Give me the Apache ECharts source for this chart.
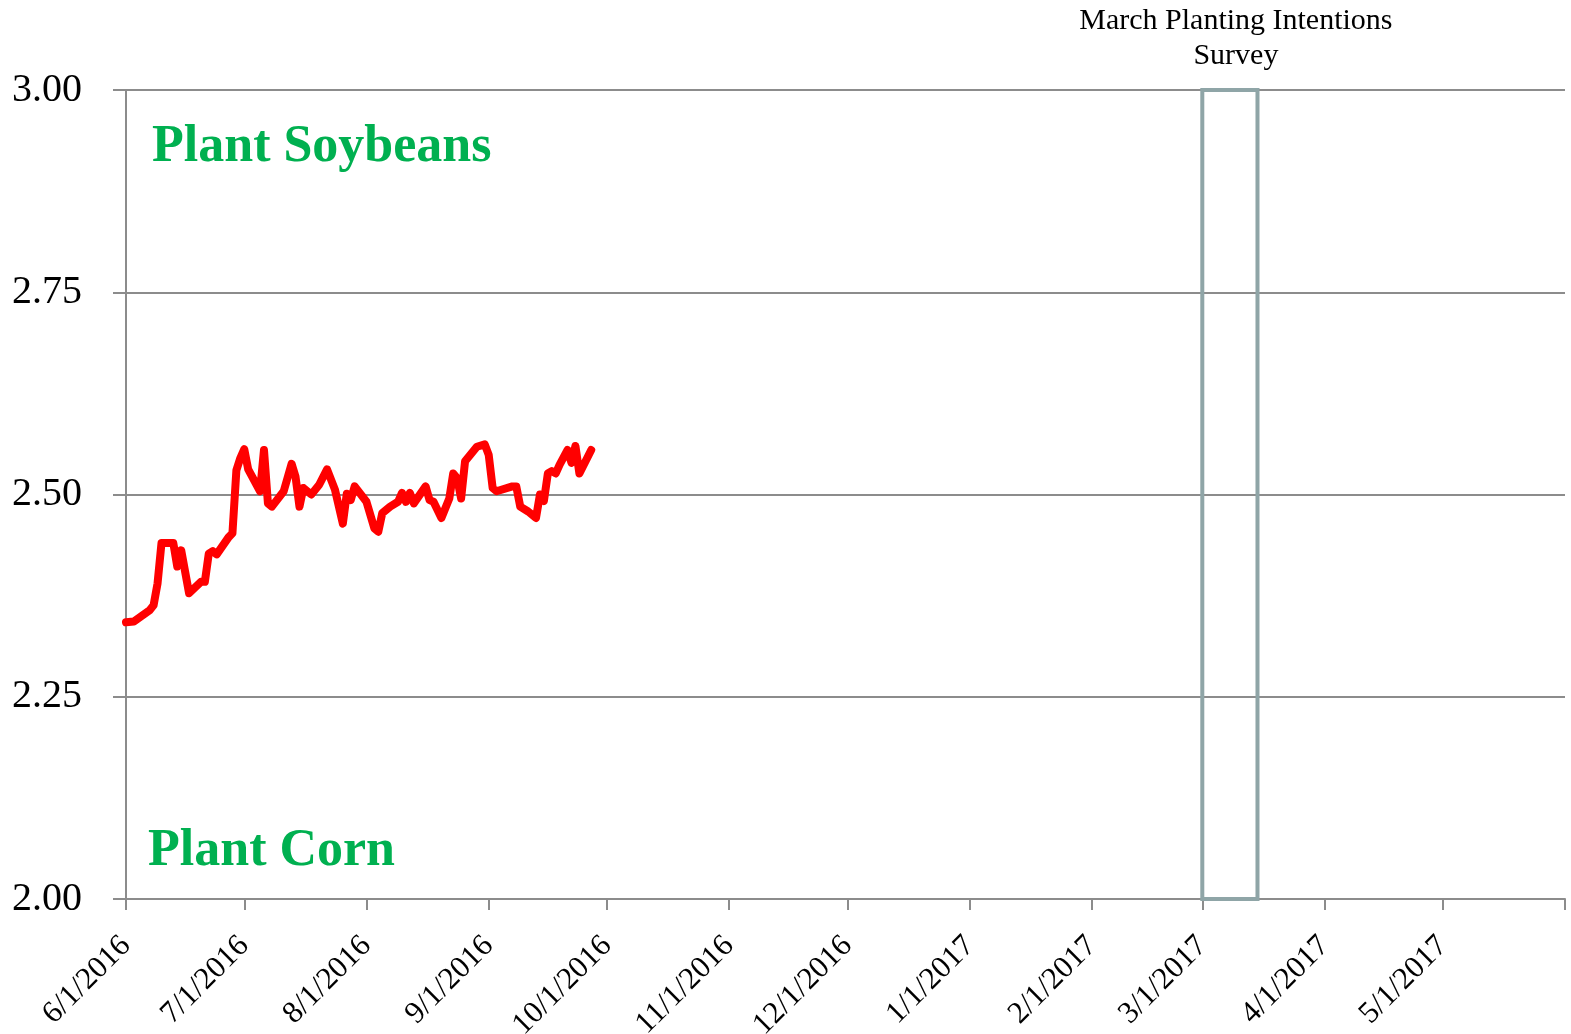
<!DOCTYPE html>
<html>
<head>
<meta charset="utf-8">
<script src="https://cdn.jsdelivr.net/npm/echarts@6/dist/echarts.min.js"></script>
<style>
html,body{margin:0;padding:0;background:#fff;}
#chart{width:1571px;height:1034px;}
</style>
</head>
<body>
<div id="chart"></div>
<script>
// Soybean/corn price ratio
const dates = [
 '2016-06-01','2016-06-03','2016-06-07','2016-06-08','2016-06-09','2016-06-10','2016-06-13','2016-06-14','2016-06-15','2016-06-17',
 '2016-06-20','2016-06-21','2016-06-22','2016-06-23','2016-06-24','2016-06-27','2016-06-28','2016-06-29','2016-06-30','2016-07-01',
 '2016-07-02','2016-07-05','2016-07-06','2016-07-07','2016-07-08','2016-07-11','2016-07-13','2016-07-14','2016-07-15','2016-07-16',
 '2016-07-18','2016-07-20','2016-07-22','2016-07-24','2016-07-26','2016-07-27','2016-07-28','2016-07-29','2016-08-01','2016-08-03',
 '2016-08-04','2016-08-05','2016-08-07','2016-08-09','2016-08-10','2016-08-11','2016-08-12','2016-08-13','2016-08-16','2016-08-17',
 '2016-08-18','2016-08-20','2016-08-22','2016-08-23','2016-08-24','2016-08-25','2016-08-26','2016-08-29','2016-08-31','2016-09-01',
 '2016-09-02','2016-09-03','2016-09-07','2016-09-08','2016-09-09','2016-09-11','2016-09-13','2016-09-14','2016-09-15','2016-09-16',
 '2016-09-17','2016-09-18','2016-09-19','2016-09-21','2016-09-22','2016-09-23','2016-09-24','2016-09-27'
];
const ratios = [
 2.342,2.343,2.357,2.363,2.390,2.440,2.440,2.411,2.431,2.378,
 2.392,2.392,2.427,2.430,2.426,2.447,2.452,2.530,2.545,2.556,
 2.531,2.504,2.555,2.489,2.485,2.504,2.538,2.522,2.485,2.508,
 2.500,2.512,2.531,2.506,2.464,2.501,2.493,2.510,2.491,2.458,
 2.454,2.477,2.485,2.491,2.502,2.491,2.502,2.489,2.510,2.493,
 2.491,2.471,2.495,2.526,2.520,2.495,2.541,2.559,2.562,2.549,
 2.508,2.504,2.510,2.510,2.485,2.479,2.471,2.500,2.492,2.526,
 2.529,2.526,2.537,2.555,2.539,2.560,2.526,2.555
];
const xRange = ['2016-06-01','2017-06-01'];
const yTicks = [2.00, 2.25, 2.50, 2.75, 3.00];
const surveyWindow = ['2017-03-01','2017-03-15'];
const surveyLabel = 'March Planting Intentions\nSurvey';
const zoneTop = 'Plant Soybeans';
const zoneBottom = 'Plant Corn';

const FONT = 'Liberation Serif';
const chart = echarts.init(document.getElementById('chart'));
const maxTs = new Date(xRange[1] + 'T00:00:00').getTime();

chart.setOption({
  animation: false,
  backgroundColor: '#ffffff',
  grid: {left: 126, right: 6, top: 90, bottom: 135, containLabel: false, outerBoundsMode: 'none'},
  xAxis: {
    type: 'time',
    min: xRange[0],
    max: xRange[1],
    splitNumber: 12,
    minInterval: 28 * 86400000,
    axisLine: {show: true, lineStyle: {color: '#8c8c8c', width: 2}},
    axisTick: {show: true, length: 11, lineStyle: {color: '#8c8c8c', width: 2}},
    splitLine: {show: false},
    minorTick: {show: false},
    axisLabel: {
      rotate: 45,
      margin: 42,
      fontFamily: FONT,
      fontSize: 31,
      color: '#000',
      hideOverlap: false,
      formatter: function (v) {
        const d = new Date(v);
        if (v >= maxTs) return '';
        return (d.getMonth() + 1) + '/' + d.getDate() + '/' + d.getFullYear();
      }
    }
  },
  yAxis: {
    type: 'value',
    min: yTicks[0],
    max: yTicks[yTicks.length - 1],
    interval: 0.25,
    axisLine: {show: true, lineStyle: {color: '#8c8c8c', width: 2}},
    axisTick: {show: true, length: 13, lineStyle: {color: '#8c8c8c', width: 2}},
    splitLine: {show: true, lineStyle: {color: '#8c8c8c', width: 2}},
    axisLabel: {
      margin: 44,
      fontFamily: FONT,
      fontSize: 40,
      color: '#000',
      formatter: v => v.toFixed(2)
    }
  },
  graphic: [
    {type: 'text', left: 152, top: 122, style: {text: zoneTop, font: 'bold 52px "Liberation Serif"', fill: '#00B050'}},
    {type: 'text', left: 148, top: 826, style: {text: zoneBottom, font: 'bold 52px "Liberation Serif"', fill: '#00B050'}}
  ],
  series: [
    {
      type: 'line',
      data: dates.map((d, i) => [d, ratios[i]]),
      showSymbol: false,
      symbol: 'none',
      lineStyle: {color: '#FF0000', width: 8, join: 'round', cap: 'round'},
      clip: false,
      markArea: {
        silent: true,
        itemStyle: {color: 'rgba(0,0,0,0)', borderColor: '#8FA5A7', borderWidth: 4},
        label: {
          show: true,
          position: 'top',
          distance: 14,
          offset: [6, 0],
          formatter: surveyLabel,
          fontFamily: FONT,
          fontSize: 30,
          lineHeight: 35,
          color: '#000',
          align: 'center'
        },
        data: [[
          {xAxis: surveyWindow[0], yAxis: 3.0075},
          {xAxis: surveyWindow[1], yAxis: 2.0}
        ]]
      }
    }
  ]
});
</script>
</body>
</html>
